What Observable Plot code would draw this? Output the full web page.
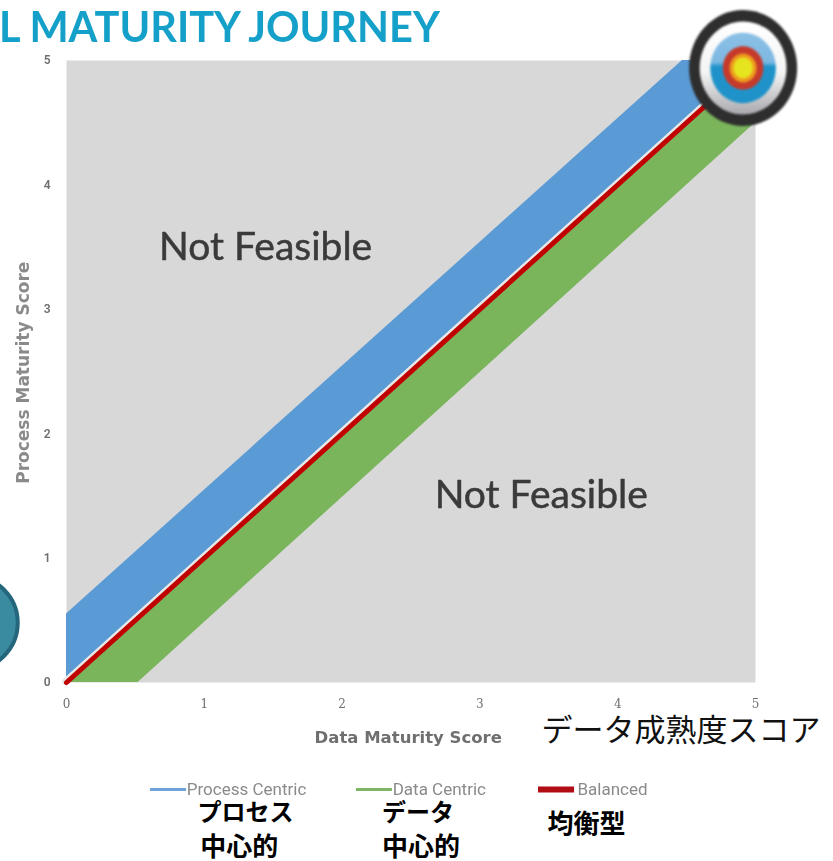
<!DOCTYPE html>
<html><head><meta charset="utf-8">
<script src="https://cdn.jsdelivr.net/npm/d3@7"></script>
<script src="https://cdn.jsdelivr.net/npm/@observablehq/plot@0.6"></script>
<style>html,body{margin:0;padding:0;background:#fff}svg{display:block}</style>
</head><body><div id="c"></div>
<script>
const processX = [0, 4.47, 5];
const processLow = [0, 4.47, 5];
const processHigh = [0.55, 5, 5];
const dataX = [0, 0.52, 5];
const dataLow = [0, 0, 4.5];
const dataHigh = [0, 0.52, 5];
const balancedX = [0, 5];
const balancedY = [0, 5];
const ticks = [0, 1, 2, 3, 4, 5];

const GREY = "#6f6f6f";
const JP = "'Noto Sans CJK JP'";

const legendNames = ["Process Centric", "Data Centric", "Balanced"];
const legendColors = ["#6fa3d8", "#7fb566", "#b00d14"];
const legendX1 = [0.61, 2.104, 3.425];
const legendX2 = [0.871, 2.365, 3.687];
const legendTextX = [0.873, 2.367, 3.708];
const legendY = -0.86;
const legendWidths = [3, 3, 6];

const jpLabels = ["プロセス", "中心的", "データ", "中心的", "均衡型"];
const jpX = [0.95, 0.97, 2.29, 2.29, 3.49];
const jpY = [-1.05, -1.33, -1.05, -1.33, -1.14];
const jpSizes = [24, 26, 24, 26, 26];

const oval = {draw(ctx, size) {
  const r = Math.sqrt(size / Math.PI), k = 0.5523;
  const a = r * 0.965, b = r * 1.035;
  ctx.moveTo(a, 0);
  ctx.bezierCurveTo(a, k*b, k*a, b, 0, b);
  ctx.bezierCurveTo(-k*a, b, -a, k*b, -a, 0);
  ctx.bezierCurveTo(-a, -k*b, -k*a, -b, 0, -b);
  ctx.bezierCurveTo(k*a, -b, a, -k*b, a, 0);
  ctx.closePath();
}};
const targetX = 4.91, targetY = 4.94;
const targetRadii = [56, 45, 34, 21, 14, 10];
const targetFills = ["#2e2e2e", "url(#ringGrad)", "url(#blueGrad)", "#c63a2c", "#ee9a1e", "#e6e41e"];

const plot = Plot.plot({
  width: 833, height: 861,
  marginLeft: 66, marginRight: 78, marginTop: 60, marginBottom: 179,
  style: {background: "#fff", overflow: "hidden"},
  x: {domain: [0, 5], axis: null},
  y: {domain: [0, 5], axis: null},
  r: {type: "identity"},
  marks: [
    Plot.frame({fill: "#d8d8d8", stroke: null}),
    Plot.areaY(processX.map((x, i) => ({x, a: processLow[i], b: processHigh[i]})), {x: "x", y1: "a", y2: "b", fill: "#5b9bd5", imageFilter: "blur(0.7px)"}),
    Plot.areaY(dataX.map((x, i) => ({x, a: dataLow[i], b: dataHigh[i]})), {x: "x", y1: "a", y2: "b", fill: "#7ab55c", imageFilter: "blur(0.7px)"}),
    Plot.line(balancedX.map((x, i) => ({x, y: balancedY[i]})), {x: "x", y: "y", stroke: "#e8e8e8", strokeWidth: 7, dx: -1, dy: -1, imageFilter: "blur(0.7px)"}),
    Plot.line(balancedX.map((x, i) => ({x, y: balancedY[i]})), {x: "x", y: "y", stroke: "#c00000", strokeWidth: 5, imageFilter: "blur(0.5px)"}),

    Plot.axisX(ticks, {anchor: "bottom", tickSize: 0, tickPadding: 17, tickFormat: "d", fontSize: 12, fill: GREY, fontFamily: "'DejaVu Serif'", imageFilter: "blur(0.5px)", label: null}),
    Plot.axisY(ticks, {anchor: "left", tickSize: 0, tickPadding: 16, tickFormat: "d", fontSize: 12, fill: GREY, fontFamily: "Roboto", fontWeight: 600, imageFilter: "blur(0.5px)", label: null}),

    Plot.text(["Data Maturity Score"], {x: [2.48], y: [-0.445], text: d => d, fontSize: 16.5, fontWeight: 700, fill: GREY, fontFamily: "'DejaVu Sans'", imageFilter: "blur(0.7px)"}),
    Plot.text(["Process Maturity Score"], {x: [-0.315], y: [2.49], text: d => d, rotate: -90, fontSize: 17, fontWeight: 700, fill: "#8a8a8a", fontFamily: "'DejaVu Sans'", imageFilter: "blur(0.7px)"}),

    Plot.text(["L MATURITY JOURNEY"], {x: [-0.49], y: [5.257], text: d => d, textAnchor: "start", fontSize: 41.5, fontWeight: 700, fill: "#14a0c8", fontFamily: "Lato", imageFilter: "blur(0.7px)"}),

    Plot.text(["Not Feasible"], {x: [1.445], y: [3.5], text: d => d, fontSize: 39, fill: "#3a3a3a", stroke: "#3a3a3a", strokeWidth: 0.5, fontFamily: "Lato", imageFilter: "blur(0.5px)"}),
    Plot.text(["Not Feasible"], {x: [3.445], y: [1.5], text: d => d, fontSize: 39, fill: "#3a3a3a", stroke: "#3a3a3a", strokeWidth: 0.5, fontFamily: "Lato", imageFilter: "blur(0.5px)"}),

    Plot.dot([0], {x: [-0.695], y: [0.48], r: 47, fill: "#3a8ba0", stroke: "#24667c", strokeWidth: 4}),

    Plot.dot(targetRadii.map((r, i) => ({r, f: targetFills[i]})), {x: () => targetX, y: () => targetY, r: "r", fill: d => d.f, symbol: oval, imageFilter: "blur(0.8px)"}),

    Plot.ruleY(legendNames.map((n, i) => i), {x1: i => legendX1[i], x2: i => legendX2[i], y: () => legendY, stroke: i => legendColors[i], strokeWidth: i => legendWidths[i], imageFilter: "blur(0.5px)"}),
    Plot.text(legendNames, {x: (d, i) => legendTextX[i], y: () => legendY, text: d => d, textAnchor: "start", fontSize: 17, fill: "#8a8a8a", fontFamily: "Roboto", imageFilter: "blur(0.6px)"}),

    Plot.text(["データ成熟度スコア"], {x: [3.447], y: [-0.39], text: d => d, textAnchor: "start", fontSize: 31, fill: "#111", fontFamily: JP, fontWeight: 400}),
    Plot.text(jpLabels, {x: (d, i) => jpX[i], y: (d, i) => jpY[i], text: d => d, textAnchor: "start", fontSize: (d, i) => jpSizes[i], fontWeight: 700, fill: "#000", fontFamily: JP})
  ]
});

const defs = d3.select(plot).append("defs");
const grad = (id, stops) => {
  const g = defs.append("linearGradient").attr("id", id).attr("gradientUnits", "objectBoundingBox").attr("x1", 0).attr("y1", 0).attr("x2", 0).attr("y2", 1);
  stops.forEach(([o, c]) => g.append("stop").attr("offset", o).attr("stop-color", c));
};
grad("ringGrad", [[0, "#ffffff"], [0.55, "#f4f4f4"], [1, "#a9a9ae"]]);
grad("blueGrad", [[0, "#8cc0e6"], [0.42, "#7db8e2"], [0.48, "#1f93c9"], [1, "#1f93c9"]]);

document.getElementById("c").append(plot);
</script></body></html>
